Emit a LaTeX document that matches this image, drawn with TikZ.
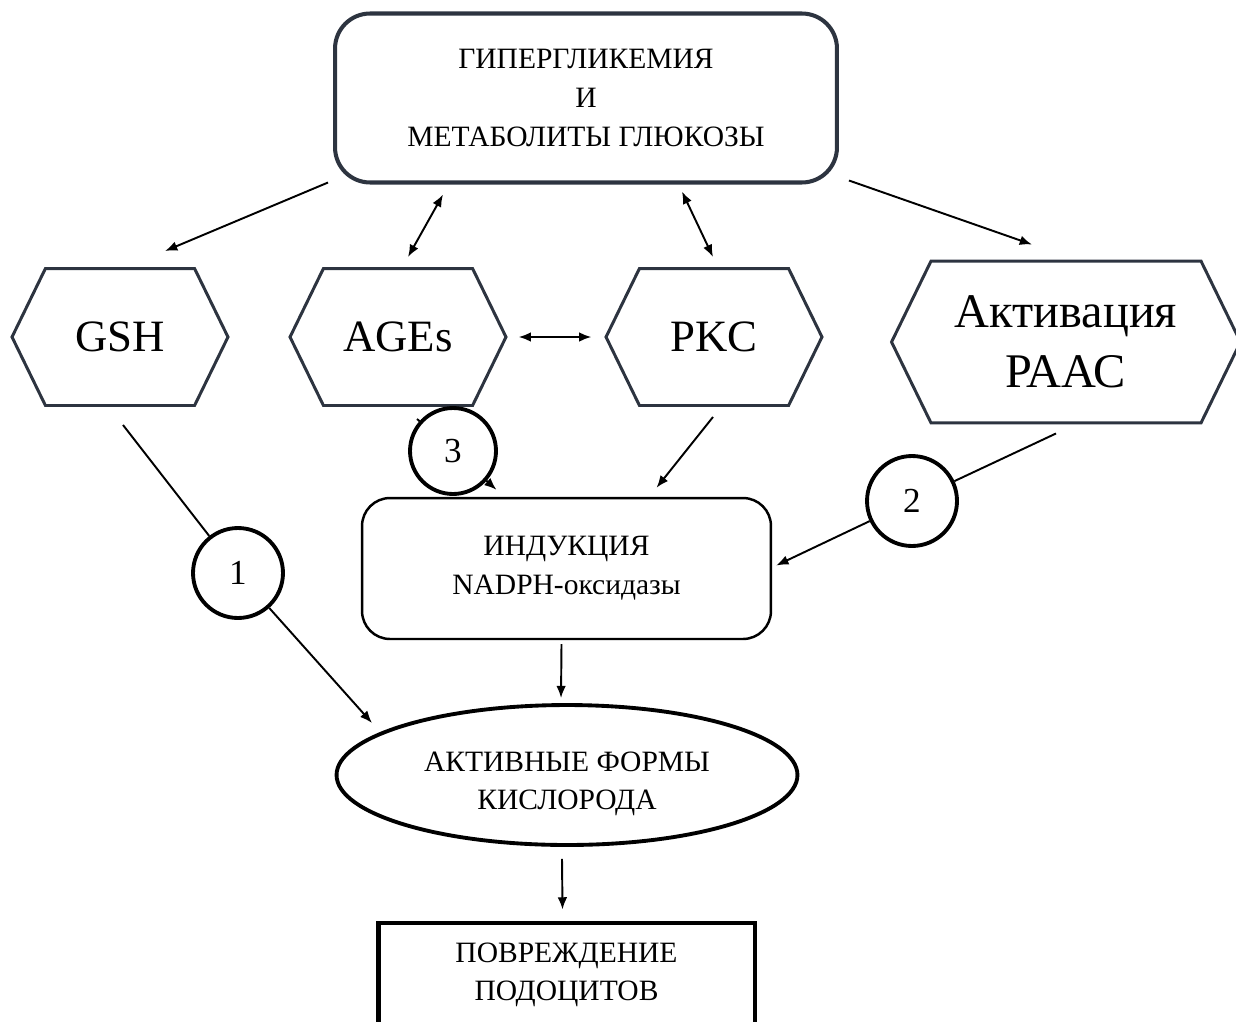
\documentclass[tikz,border=0pt]{standalone}
\usepackage{fontspec}
\setmainfont{Liberation Serif}
\usepackage{xcolor}
\usetikzlibrary{arrows.meta, calc, shapes.geometric, shapes.symbols}
\definecolor{myslate}{RGB}{45,52,64}

\begin{document}
\begin{tikzpicture}[x=0.02cm, y=-0.02cm,
  conn/.style={line width=1.1pt},
  arr/.style={conn, -{Latex[length=7pt,width=5.5pt]}},
  dblarr/.style={conn, {Latex[length=7pt,width=5.5pt]}-{Latex[length=7pt,width=5.5pt]}},
  hexa/.style={signal, signal to=west and east, signal pointer angle=128, draw=myslate, line width=1.7pt, align=center, inner sep=0pt, font=\fontsize{25.5}{34}\selectfont},
  numc/.style={circle, draw, fill=white, line width=2.2pt, minimum size=1.8cm, inner sep=0pt, font=\fontsize{20}{22}\selectfont},
  txt/.style={align=center, font=\fontsize{16.8}{22}\selectfont}]

\useasboundingbox (0,0) rectangle (1236,1021);
\clip (0,0) rectangle (1236,1021);

\node[txt, draw=myslate, line width=2.3pt, rounded corners=0.7cm, minimum width=10.04cm, minimum height=3.38cm] (top) at (586,98) {ГИПЕРГЛИКЕМИЯ\\И\\МЕТАБОЛИТЫ ГЛЮКОЗЫ};

\node[hexa, minimum width=4.32cm, minimum height=2.74cm] (gsh) at (120,337) {GSH};
\node[hexa, minimum width=4.32cm, minimum height=2.74cm] (ages) at (398,337) {AGEs};
\node[hexa, minimum width=4.32cm, minimum height=2.74cm] (pkc) at (714,337) {PKC};
\node[hexa, minimum width=6.98cm, minimum height=3.24cm, font=\fontsize{27.5}{34}\selectfont] (raas) at (1066,342) {Активация\\РААС};

\node[txt, draw, line width=1.4pt, rounded corners=0.56cm, minimum width=8.18cm, minimum height=2.82cm] (nadph) at (566.5,568.5) {ИНДУКЦИЯ\\NADPH-оксидазы};
\node[ellipse, draw, line width=2.2pt, minimum width=9.22cm, minimum height=2.8cm] (afk) at (567,775) {};
\node[txt] (afktext) at (567,784) {АКТИВНЫЕ ФОРМЫ\\КИСЛОРОДА};
\node[txt, draw, line width=2.8pt, minimum width=7.54cm, minimum height=2.08cm] (pod) at (566.5,975) {ПОВРЕЖДЕНИЕ\\ПОДОЦИТОВ};

\node[numc] (c1) at (238,573) {1};
\node[numc] (c2) at (912,501) {2};
\node[numc, minimum size=1.72cm] (c3) at (453,451) {3};

\draw[arr] ($(top.south west)+(-5,-2)$) -- ($(gsh.north)+(45,-16)$);
\draw[dblarr] ($(top.south)+(-143,10)$) -- ($(ages.north)+(10,-10)$);
\draw[dblarr] ($(top.south)+(96,7)$) -- ($(pkc.north)+(-1,-10)$);
\draw[arr] ($(top.south east)+(10,-4)$) -- ($(raas.north)+(-34,-15)$);
\draw[dblarr] ($(ages.east)+(11,0)$) -- ($(pkc.west)+(-13,0)$);

\draw[conn] ($(gsh.south)+(3,18)$) -- (c1);
\draw[arr] (c1) -- ($(afk.center)+(-195,-52)$);
\draw[conn] ($(raas.south)+(-10,9)$) -- (c2);
\draw[arr] (c2) -- ($(nadph.east)+(4,-3)$);
\draw[conn] ($(ages.south)+(19,12)$) -- (c3);
\draw[arr] (c3) -- ($(nadph.north)+(-70,-7)$);
\draw[arr] ($(pkc.south)+(-1,10)$) -- ($(nadph.north)+(90,-9)$);
\draw[arr] ($(nadph.south)+(-5,4)$) -- ($(afk.north)+(-6,-5)$);
\draw[arr] ($(afk.south)+(-5,12)$) -- ($(pod.north)+(-4,-11)$);

\end{tikzpicture}
\end{document}
